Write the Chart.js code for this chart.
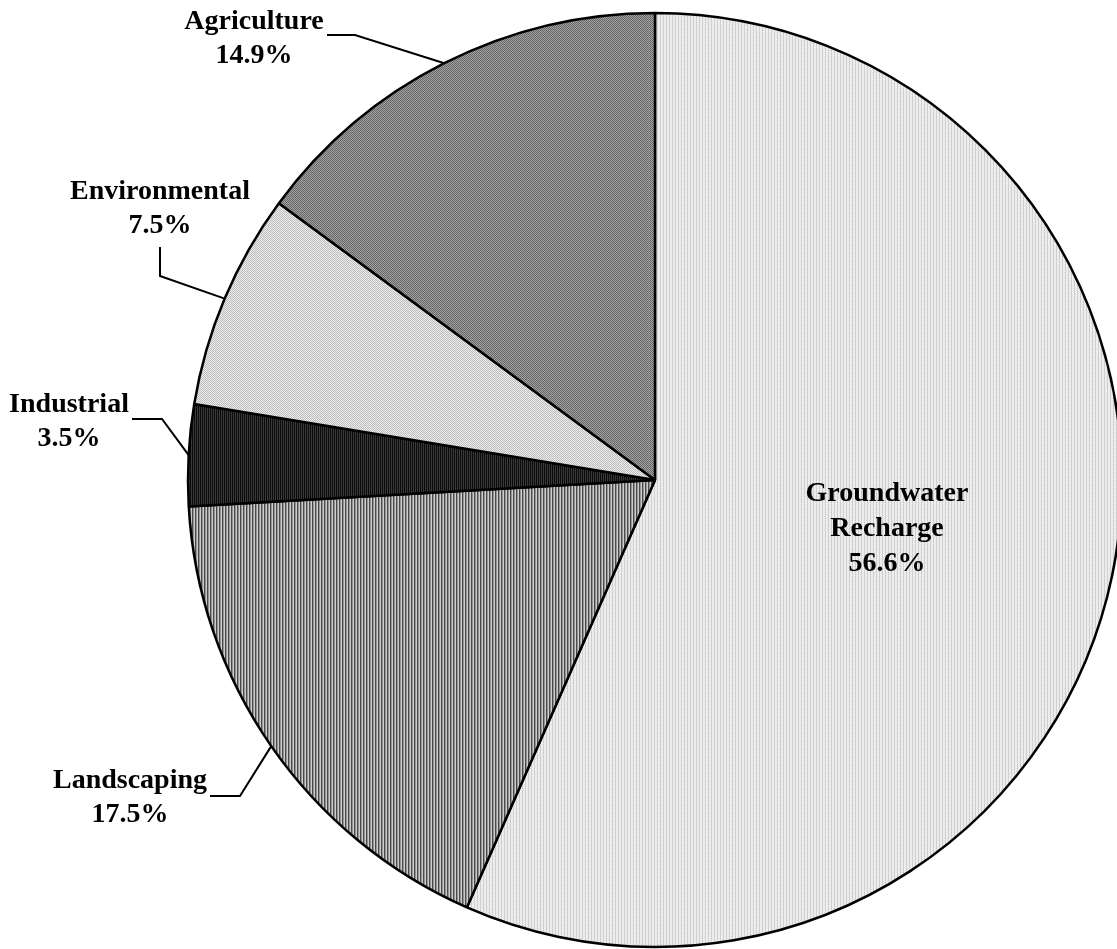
<!DOCTYPE html>
<html>
<head>
<meta charset="utf-8">
<script src="https://cdn.jsdelivr.net/npm/chart.js@4"></script>
<style>
  html, body { margin: 0; padding: 0; background: #fff; }
  #wrap { width: 1117px; height: 949px; }
</style>
</head>
<body>
<div id="wrap"><canvas id="pie" width="1117" height="949"></canvas></div>
<script>
// data
const categories = ['Groundwater Recharge', 'Landscaping', 'Industrial', 'Environmental', 'Agriculture'];
const shares = [56.6, 17.5, 3.5, 7.5, 14.9];

// label text lines, one entry per category
const labelLines = [
    ['Groundwater', 'Recharge', '56.6%'],
    ['Landscaping', '17.5%'],
    ['Industrial', '3.5%'],
    ['Environmental', '7.5%'],
    ['Agriculture', '14.9%']
];

// where each label sits (text centre x, first baseline y) and the leader line elbow
const labelPlace = [
    { x: 887, y: 501, elbow: null, start: null },
    { x: 130, y: 788, start: [210, 796], elbow: [240, 796] },
    { x: 69,  y: 412, start: [132, 419], elbow: [162, 419] },
    { x: 160, y: 199, start: [160, 247], elbow: [160, 276] },
    { x: 254, y: 29,  start: [327, 35],  elbow: [355, 35] }
];

// small tiled patterns to mimic the grey hatch fills
function makePattern(w, h, cells) {
    const c = document.createElement('canvas');
    c.width = w; c.height = h;
    const g = c.getContext('2d');
    for (let y = 0; y < h; y++) {
        for (let x = 0; x < w; x++) {
            g.fillStyle = cells[y][x];
            g.fillRect(x, y, 1, 1);
        }
    }
    return g.createPattern(c, 'repeat');
}

const fills = [
    makePattern(3, 2, [['#cccccc', '#f2f2f2', '#e4e4e4'], ['#d4d4d4', '#e8e8e8', '#f4f4f4']]),
    makePattern(3, 1, [['#4a4a4a', '#949494', '#cccccc']]),
    makePattern(2, 1, [['#0a0a0a', '#3a3a3a']]),
    makePattern(2, 2, [['#bdbdbd', '#ececec'], ['#ececec', '#bdbdbd']]),
    makePattern(2, 2, [['#666666', '#a2a2a2'], ['#a2a2a2', '#666666']])
];

const labelPlugin = {
    id: 'pieLabels',
    afterDatasetsDraw(chart) {
        const ctx = chart.ctx;
        const arcs = chart.getDatasetMeta(0).data;
        ctx.save();
        ctx.font = 'bold 28px "Liberation Serif", "Times New Roman", serif';
        ctx.fillStyle = '#000';
        ctx.textAlign = 'center';
        ctx.textBaseline = 'alphabetic';
        ctx.strokeStyle = '#000';
        ctx.lineWidth = 2;
        arcs.forEach((arc, i) => {
            const p = arc.getProps(['x', 'y', 'startAngle', 'endAngle', 'outerRadius'], true);
            const mid = (p.startAngle + p.endAngle) / 2;
            const place = labelPlace[i];
            if (place.start) {
                const ex = p.x + Math.cos(mid) * p.outerRadius;
                const ey = p.y + Math.sin(mid) * p.outerRadius;
                ctx.beginPath();
                ctx.moveTo(place.start[0], place.start[1]);
                ctx.lineTo(place.elbow[0], place.elbow[1]);
                ctx.lineTo(ex, ey);
                ctx.stroke();
            }
            const lh = labelLines[i].length > 2 ? 35 : 34;
            labelLines[i].forEach((t, k) => {
                ctx.fillText(t, place.x, place.y + k * lh);
            });
        });
        ctx.restore();
    }
};

new Chart(document.getElementById('pie'), {
    type: 'pie',
    data: {
        labels: categories,
        datasets: [{
            data: shares,
            backgroundColor: fills,
            borderColor: '#000',
            borderWidth: 2.5,
            radius: 467
        }]
    },
    options: {
        responsive: false,
        animation: false,
        layout: { padding: { left: 193, right: 0, top: 11, bottom: 0 } },
        plugins: {
            legend: { display: false },
            tooltip: { enabled: false }
        }
    },
    plugins: [labelPlugin]
});
</script>
</body>
</html>
